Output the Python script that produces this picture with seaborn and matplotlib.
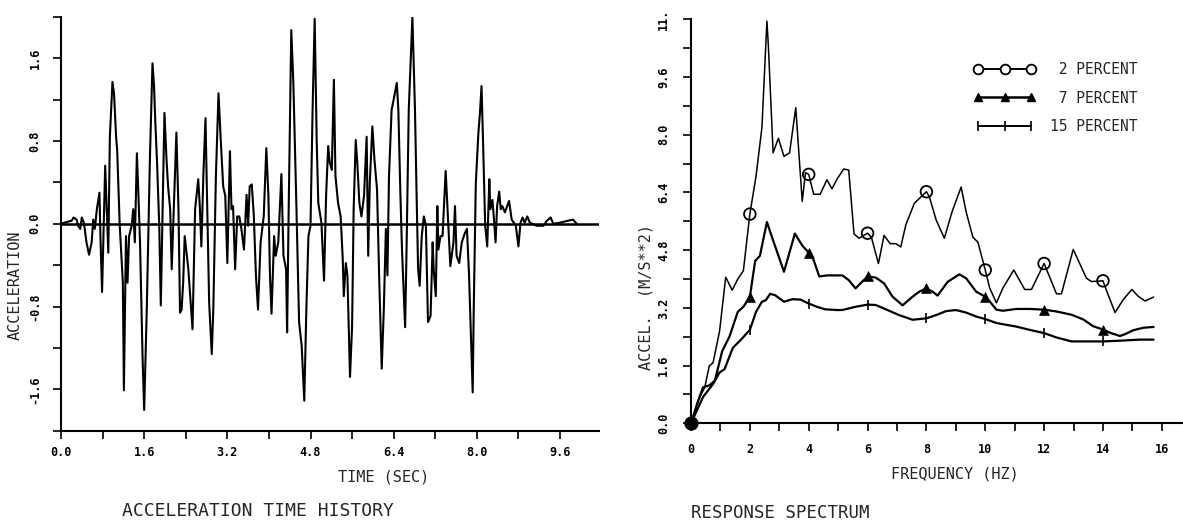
import numpy as np
import pandas as pd
import matplotlib
matplotlib.use("Agg")
import matplotlib.pyplot as plt
from matplotlib.lines import Line2D
from matplotlib.ticker import MultipleLocator
import seaborn as sns


# -------------------------
# Data
# -------------------------

# acceleration time history (turning points of the trace)
time_s = [
    0.00, 0.21, 0.24, 0.30, 0.33, 0.37, 0.40, 0.44, 0.49, 0.54,
    0.59, 0.62, 0.65, 0.69, 0.74, 0.76, 0.79, 0.85, 0.88, 0.91,
    0.94, 0.99, 1.02, 1.06, 1.08, 1.13, 1.19, 1.21, 1.25, 1.28,
    1.31, 1.36, 1.39, 1.42, 1.46, 1.49, 1.52, 1.57, 1.60, 1.65,
    1.71, 1.76, 1.79, 1.81, 1.85, 1.89, 1.92, 1.96, 1.99, 2.03,
    2.06, 2.10, 2.13, 2.16, 2.22, 2.26, 2.29,
    2.32, 2.35, 2.38, 2.45, 2.53, 2.58, 2.64, 2.67, 2.70, 2.74,
    2.78, 2.80, 2.85, 2.90, 2.93, 2.98, 3.03, 3.07, 3.12, 3.16,
    3.20, 3.25, 3.28, 3.31, 3.35, 3.39, 3.43, 3.47, 3.52, 3.57,
    3.60, 3.63, 3.67, 3.71, 3.75, 3.79, 3.84, 3.90, 3.95, 3.99,
    4.02, 4.05, 4.10, 4.13, 4.18, 4.24, 4.28, 4.33, 4.35, 4.38,
    4.43, 4.47, 4.53, 4.58, 4.63, 4.68, 4.72, 4.76, 4.80, 4.84,
    4.88, 4.92, 4.95, 5.01, 5.06,
    5.10, 5.14, 5.17, 5.21, 5.25, 5.28, 5.33, 5.38, 5.42, 5.44,
    5.48, 5.51, 5.56, 5.60, 5.63, 5.67, 5.70, 5.74, 5.78, 5.83,
    5.88, 5.91, 5.94, 5.99, 6.03, 6.08, 6.12, 6.17, 6.21, 6.25,
    6.28, 6.31, 6.36, 6.40, 6.46, 6.49, 6.53, 6.56, 6.62, 6.65,
    6.69, 6.76, 6.81, 6.84, 6.87, 6.90, 6.94, 6.98, 7.02, 7.06,
    7.11, 7.15, 7.17, 7.21, 7.24, 7.26, 7.30, 7.34, 7.40, 7.45,
    7.49, 7.55, 7.58, 7.61, 7.66, 7.71,
    7.77, 7.81, 7.85, 7.92, 7.94, 7.98, 8.03, 8.06, 8.09, 8.12,
    8.16, 8.20, 8.24, 8.26, 8.30, 8.33, 8.36, 8.39, 8.43, 8.46,
    8.49, 8.54, 8.62, 8.67, 8.75, 8.80, 8.84, 8.88, 8.92, 8.97,
    9.02, 9.15, 9.28, 9.35, 9.42, 9.47, 9.60, 9.85, 9.92,
]
accel_g = [
    0.00, 0.03, 0.06, 0.04, -0.02, -0.05, 0.06, 0.01, -0.18, -0.30,
    -0.18, 0.04, -0.05, 0.14, 0.30, -0.15, -0.66, 0.56, 0.14, -0.28,
    0.84, 1.37, 1.26, 0.84, 0.72, -0.02, -0.57, -1.61, -0.12, -0.57,
    -0.12, -0.02, 0.14, -0.18, 0.68, 0.27, -0.18, -1.31, -1.80, -0.83,
    0.62, 1.55, 1.33, 1.04, 0.56, -0.02, -0.79, 0.27, 1.07, 0.62,
    0.36, 0.14, -0.44, 0.01, 0.88, 0.14, -0.86,
    -0.83, -0.57, -0.12, -0.44, -1.02, 0.14, 0.43, 0.17, -0.22, 0.49,
    1.02, 0.49, -0.76, -1.26, -0.83, 0.46, 1.26, 0.84, 0.36, 0.27,
    -0.38, 0.70, 0.14, 0.17, -0.44, 0.07, 0.07, -0.05, -0.25, 0.28,
    -0.02, 0.36, 0.38, 0.07, -0.50, -0.83, -0.18, 0.07, 0.73, 0.27,
    -0.50, -0.87, -0.12, -0.31, -0.18, 0.48, -0.31, -0.44, -1.05, 0.14,
    1.87, 1.36, 0.14, -0.95, -1.18, -1.71, -0.83, -0.12, -0.02, 1.10,
    1.98, 0.78, 0.20, 0.01, -0.55,
    0.27, 0.75, 0.59, 0.52, 1.39, 0.46, 0.20, 0.07, -0.34, -0.70,
    -0.38, -0.50, -1.48, -0.99, 0.14, 0.81, 0.59, 0.20, 0.07, 0.27,
    0.84, -0.31, 0.39, 0.94, 0.62, 0.33, -0.50, -1.40, -0.83, -0.05,
    -0.50, 0.46, 1.10, 1.20, 1.36, 1.10, 0.27, -0.25, -1.00, -0.18,
    1.10, 2.00, 1.10, 0.30, -0.44, -0.60, -0.12, 0.07, -0.02, -0.95,
    -0.89, -0.18, -0.44, -0.70, 0.17, -0.25, -0.12, -0.12, 0.51, 0.01,
    -0.41, -0.18, 0.17, -0.31, -0.38, -0.18,
    -0.09, -0.05, -0.50, -1.63, -0.83, 0.39, 0.88, 1.07, 1.33, 0.78,
    -0.02, -0.22, 0.43, 0.14, 0.23, 0.04, -0.18, 0.17, 0.31, 0.14,
    0.17, 0.11, 0.22, 0.04, -0.02, -0.22, 0.01, 0.06, 0.01, 0.07,
    0.01, -0.02, -0.02, 0.03, 0.06, 0.00, 0.01, 0.04, 0.00,
]

# response spectrum, 2 percent damping
freq_2 = [
    0, 0.25, 0.47, 0.62, 0.75, 0.97, 1.18, 1.40, 1.59, 1.78,
    2.0, 2.21, 2.41, 2.58, 2.63, 2.79, 2.97, 3.16, 3.35, 3.56,
    3.78, 3.89, 4.0, 4.17, 4.39, 4.62, 4.79, 4.97, 5.19, 5.36,
    5.54, 5.71, 6.0, 6.13, 6.37, 6.56, 6.77, 6.96, 7.13, 7.30,
    7.59, 8.0, 8.10, 8.33, 8.61, 8.87, 9.18, 9.35, 9.58, 9.75,
    10.0, 10.15, 10.38, 10.60, 10.97, 11.34, 11.57, 12.0, 12.42, 12.59,
    12.99, 13.44, 13.61, 14.0, 14.13, 14.41, 14.69, 14.98, 15.20, 15.43,
    15.72,
]
sa_2 = [
    0, 0.64, 1.0, 1.59, 1.68, 2.55, 4.05, 3.69, 4.0, 4.23,
    5.8, 6.85, 8.2, 11.15, 10.45, 7.5, 7.9, 7.4, 7.5, 8.75,
    6.15, 6.95, 6.9, 6.35, 6.35, 6.75, 6.5, 6.78, 7.05, 7.02,
    5.25, 5.13, 5.27, 5.16, 4.43, 5.21, 4.98, 4.98, 4.89, 5.5,
    6.1, 6.42, 6.28, 5.64, 5.13, 5.86, 6.55, 5.86, 5.16, 5.02,
    4.25, 3.75, 3.34, 3.75, 4.25, 3.71, 3.71, 4.43, 3.59, 3.59,
    4.82, 4.02, 3.93, 3.95, 3.66, 3.07, 3.43, 3.71, 3.52, 3.39,
    3.5,
]

# response spectrum, 7 percent damping
freq_7 = [
    0, 0.25, 0.41, 0.62, 0.81, 1.06, 1.31, 1.59, 1.78, 2.0,
    2.18, 2.34, 2.58, 2.77, 3.16, 3.53, 3.78, 4.0, 4.17, 4.36,
    4.62, 4.95, 5.14, 5.36, 5.59, 5.76, 6.0, 6.28, 6.56, 6.85,
    7.19, 7.53, 7.76, 8.0, 8.21, 8.38, 8.72, 9.12, 9.35, 9.69,
    10.0, 10.15, 10.38, 10.60, 11.06, 11.51, 12.0, 12.42, 12.93, 13.33,
    13.67, 14.0, 14.24, 14.58, 14.75, 15.03, 15.38, 15.72,
]
sa_7 = [
    0, 0.64, 1.0, 1.05, 1.18, 2.0, 2.41, 3.09, 3.23, 3.5,
    4.5, 4.64, 5.58, 5.12, 4.2, 5.26, 4.93, 4.73, 4.52, 4.07,
    4.1, 4.1, 4.1, 3.97, 3.74, 3.88, 4.07, 4.04, 3.88, 3.51,
    3.27, 3.51, 3.65, 3.74, 3.65, 3.54, 3.92, 4.13, 4.02, 3.65,
    3.51, 3.38, 3.15, 3.12, 3.17, 3.17, 3.15, 3.1, 3.01, 2.88,
    2.69, 2.6, 2.51, 2.42, 2.47, 2.58, 2.65, 2.67,
]

# response spectrum, 15 percent damping
freq_15 = [
    0, 0.41, 0.75, 0.97, 1.14, 1.42, 1.70, 2.0, 2.21, 2.41,
    2.54, 2.69, 2.86, 3.16, 3.44, 3.72, 4.0, 4.28, 4.56, 4.95,
    5.14, 5.59, 6.0, 6.28, 6.62, 7.07, 7.53, 8.0, 8.33, 8.67,
    9.0, 9.35, 9.69, 10.0, 10.38, 11.06, 11.51, 12.0, 12.42, 12.93,
    13.44, 14.0, 14.58, 15.26, 15.72,
]
sa_15 = [
    0, 0.73, 1.09, 1.41, 1.50, 2.09, 2.32, 2.59, 3.09, 3.37,
    3.41, 3.59, 3.55, 3.37, 3.44, 3.43, 3.32, 3.23, 3.16, 3.14,
    3.14, 3.23, 3.29, 3.28, 3.16, 3.00, 2.87, 2.91, 3.00, 3.11,
    3.14, 3.07, 2.96, 2.89, 2.78, 2.68, 2.59, 2.50, 2.38, 2.27,
    2.27, 2.27, 2.29, 2.32, 2.32,
]

marker_freqs = [2, 4, 6, 8, 10, 12, 14]
damping_labels = [" 2 PERCENT", " 7 PERCENT", "15 PERCENT"]

time_ticks = [0.0, 1.6, 3.2, 4.8, 6.4, 8.0, 9.6]
accel_ticks = [-1.6, -0.8, 0.0, 0.8, 1.6]
accel_ticklabels = ["-1.6", "-0.8", "0.0", "0.8", "1.6"]
freq_ticks = [0, 2, 4, 6, 8, 10, 12, 14, 16]
sa_ticks = [0.0, 1.6, 3.2, 4.8, 6.4, 8.0, 9.6, 11.2]
sa_ticklabels = ["0.0", "1.6", "3.2", "4.8", "6.4", "8.0", "9.6", "11."]


# -------------------------
# Style
# -------------------------
sns.set_style("ticks")
plt.rcParams["font.family"] = ["DejaVu Sans Mono", "DejaVu Sans"]
plt.rcParams["axes.linewidth"] = 1.5
plt.rcParams["axes.edgecolor"] = "black"

W, H = 1183, 527
fig = plt.figure(figsize=(W / 100, H / 100), dpi=100)
fig.patch.set_facecolor("white")


def fx(px):
    return px / W


def fy(py):
    return 1 - py / H


def style_ticks(ax, xpad, ypad):
    ax.tick_params(which="both", direction="out", length=6, width=1.2,
                   color="black", labelsize=8.5, labelcolor="black")
    ax.tick_params(axis="x", pad=xpad)
    ax.tick_params(axis="y", labelrotation=90, pad=ypad)
    for lbl in ax.get_xticklabels() + ax.get_yticklabels():
        lbl.set_fontweight("bold")
    for lbl in ax.get_yticklabels():
        lbl.set_va("center")


# -------------------------
# Left: acceleration time history
# -------------------------
ax1 = fig.add_axes([fx(61), fy(430.7), (599 - 61) / W, (430.7 - 16.7) / H])
hist = pd.DataFrame({"time": time_s, "accel": accel_g})
sns.lineplot(data=hist, x="time", y="accel", ax=ax1, color="black",
             lw=1.5, estimator=None, sort=False)
ax1.axhline(0, color="black", lw=1.8, zorder=1)
ax1.set_xlim(0, 10.35)
ax1.set_ylim(-2, 2)
ax1.set_xlabel("")
ax1.set_ylabel("")
sns.despine(ax=ax1)

ax1.set_xticks(time_ticks)
ax1.set_xticklabels([f"{v:.1f}" for v in time_ticks])
ax1.xaxis.set_minor_locator(MultipleLocator(0.8))
ax1.set_yticks(accel_ticks)
ax1.set_yticklabels(accel_ticklabels)
ax1.yaxis.set_minor_locator(MultipleLocator(0.4))
style_ticks(ax1, xpad=5, ypad=8)

# -------------------------
# Right: response spectrum
# -------------------------
ax2 = fig.add_axes([fx(691), fy(423.3), (1183 - 691) / W, (423.3 - 19.3) / H])

series = [
    (freq_2, sa_2, 1.1, dict(marker="o", s=70, facecolor="none",
                             edgecolor="black", linewidth=1.3)),
    (freq_7, sa_7, 1.6, dict(marker="^", s=50, color="black",
                             edgecolor="black", linewidth=0.5)),
    (freq_15, sa_15, 1.6, dict(marker="|", s=60, color="black",
                               edgecolor="black", linewidth=1.2)),
]
for f, a, lw, mk in series:
    spec = pd.DataFrame({"freq": f, "sa": a})
    sns.lineplot(data=spec, x="freq", y="sa", ax=ax2, color="black",
                 lw=lw, estimator=None, sort=False)
    marks = spec[spec["freq"].isin(marker_freqs)]
    sns.scatterplot(data=marks, x="freq", y="sa", ax=ax2, zorder=4, **mk)

# all curves start from the same black dot at the origin
sns.scatterplot(x=[freq_2[0]], y=[sa_2[0]], ax=ax2, s=90, color="black",
                edgecolor="black", clip_on=False, zorder=5)

ax2.set_xlim(0, 16.72)
ax2.set_ylim(0, 11.2)
ax2.set_xlabel("")
ax2.set_ylabel("")
sns.despine(ax=ax2)

ax2.set_xticks(freq_ticks)
ax2.set_xticklabels([str(v) for v in freq_ticks])
ax2.xaxis.set_minor_locator(MultipleLocator(1))
ax2.set_yticks(sa_ticks)
ax2.set_yticklabels(sa_ticklabels)
ax2.yaxis.set_minor_locator(MultipleLocator(0.8))
style_ticks(ax2, xpad=8, ypad=9)

handles = [
    Line2D([], [], color="black", lw=1.4, marker="o", ms=7,
           mfc="white", mec="black", mew=1.3),
    Line2D([], [], color="black", lw=1.8, marker="^", ms=6,
           mfc="black", mec="black"),
    Line2D([], [], color="black", lw=1.4, marker="|", ms=7, mew=1.2),
]
ax2.legend(handles, damping_labels, loc="upper left",
           bbox_to_anchor=(0.575, 0.895), frameon=False, numpoints=3,
           fontsize=10.5, handlelength=4.2, handletextpad=1.0,
           labelspacing=0.95, borderpad=0, borderaxespad=0)

# -------------------------
# Axis titles and captions
# -------------------------
fig.text(fx(15), fy(285), "ACCELERATION", rotation=90, ha="center",
         va="center", fontsize=11)
fig.text(fx(384), fy(477), "TIME (SEC)", ha="center", va="center",
         fontsize=11)
fig.text(fx(258), fy(511), "ACCELERATION TIME HISTORY", ha="center",
         va="center", fontsize=13)

fig.text(fx(646), fy(297), "ACCEL.  (M/S**2)", rotation=90, ha="center",
         va="center", fontsize=11)
fig.text(fx(955), fy(474), "FREQUENCY (HZ)", ha="center", va="center",
         fontsize=11)
fig.text(fx(691), fy(513), "RESPONSE SPECTRUM", ha="left", va="center",
         fontsize=12.5)

fig.savefig("out.png", dpi=100)
